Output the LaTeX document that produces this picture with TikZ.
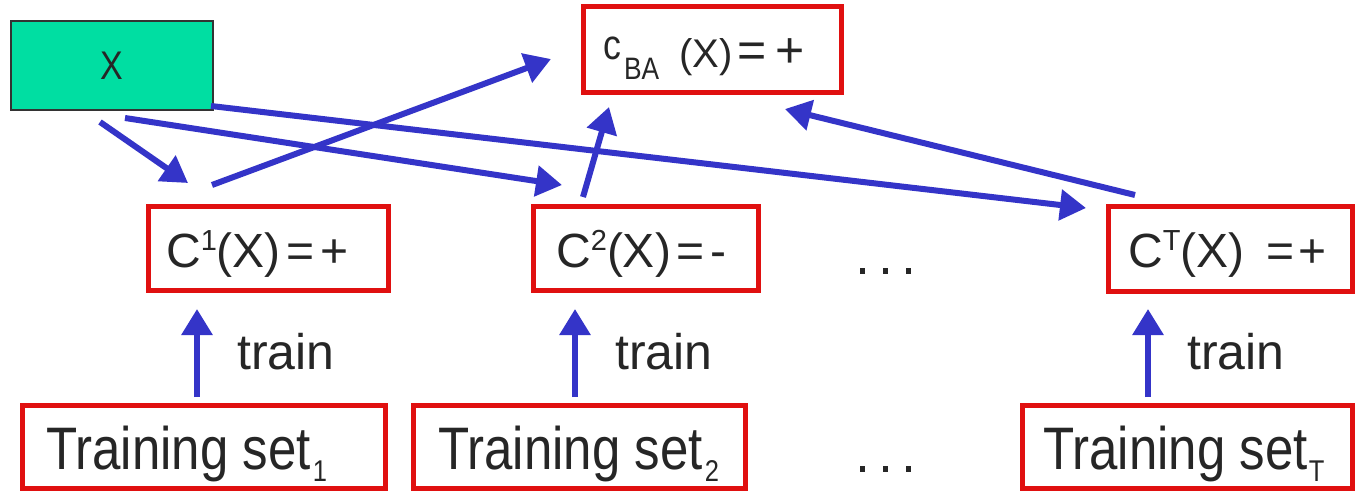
\documentclass[tikz,border=0pt]{standalone}
\usepackage{fontspec}
\setmainfont{Liberation Sans}
\newfontfamily\cnd[FakeStretch=0.85]{Liberation Sans}
\usetikzlibrary{arrows.meta}
\definecolor{boxred}{RGB}{224,16,16}
\definecolor{arrblue}{RGB}{52,52,200}
\definecolor{xgreen}{RGB}{0,222,162}
\tikzset{
  redbox/.style={draw=boxred, line width=5pt, fill=white, inner sep=0pt},
  conn/.style={draw=arrblue, line width=6pt, -{Triangle[length=26pt,width=30pt]}},
  lbl/.style={inner sep=0pt, text=black!85},
  dot/.style={fill=black!85, inner sep=0pt, minimum width=5pt, minimum height=6pt},
}
\newcommand{\fsz}[1]{\fontsize{#1}{#1}\selectfont}
\newcommand{\supr}[2]{\raisebox{#1}{\fsz{29}#2}}
\begin{document}
\begin{tikzpicture}[x=1pt,y=-1pt]
\useasboundingbox[fill=white] (0,0) rectangle (1362,492);

% top input box
\node[draw=black!80, line width=1.5pt, fill=xgreen, minimum width=202pt, minimum height=89pt, inner sep=0pt, text=black!85, font=\cnd] (X) at (112,65.5) {\fsz{40}X};

% aggregated classifier
\node[redbox, minimum width=258pt, minimum height=86pt] (CBA) at (712,50) {};
\node[lbl, anchor=base west] (cbatxt) at (603,68) {\cnd\raisebox{8pt}{\fsz{42}c}\hspace{3pt}\raisebox{-12pt}{\fsz{31}BA}\hspace{20pt}\rmfamily\fsz{40}(X)\hspace{5pt}\fsz{50}=\hspace{9pt}+};

% classifiers
\node[redbox, minimum width=240pt, minimum height=84pt] (C1) at (268,248) {};
\node[lbl, anchor=base west] (c1txt) at (166,267) {\fsz{48}C\supr{17pt}{1}(X)\hspace{6pt}=\hspace{6pt}+};
\node[redbox, minimum width=225pt, minimum height=84pt] (C2) at (645.5,248) {};
\node[lbl, anchor=base west] (c2txt) at (556,267) {\fsz{48}C\supr{17pt}{2}(X)\hspace{6pt}=\hspace{6pt}-};
\node[redbox, minimum width=244pt, minimum height=85pt] (CT) at (1230,248.5) {};
\node[lbl, anchor=base west] (cttxt) at (1128,267) {\fsz{48}C\supr{17pt}{T}(X)\hspace{22pt}=\hspace{4pt}+};

% dots
\node[dot] (d1) at (862,271) {};
\node[dot] (d2) at (885,271) {};
\node[dot] (d3) at (908,271) {};
\node[dot] (d4) at (862,469) {};
\node[dot] (d5) at (885,469) {};
\node[dot] (d6) at (908,469) {};

% training sets
\node[redbox, minimum width=363pt, minimum height=83pt] (TS1) at (203.5,446.5) {};
\node[lbl, anchor=base west, font=\cnd] (ts1txt) at (46,469) {\fsz{60}Training set\hspace{2pt}\raisebox{-12pt}{\fsz{30}1}};
\node[redbox, minimum width=332pt, minimum height=83pt] (TS2) at (579,446.5) {};
\node[lbl, anchor=base west, font=\cnd] (ts2txt) at (438,469) {\fsz{60}Training set\hspace{2pt}\raisebox{-12pt}{\fsz{30}2}};
\node[redbox, minimum width=330pt, minimum height=83pt] (TST) at (1187,446.5) {};
\node[lbl, anchor=base west, font=\cnd] (tsttxt) at (1043,469) {\fsz{60}Training set\hspace{1pt}\raisebox{-12pt}{\fsz{30}T}};

% train labels
\node[lbl, anchor=base west] (tr1) at (237,369) {\fsz{50}train};
\node[lbl, anchor=base west] (tr2) at (615,369) {\fsz{50}train};
\node[lbl, anchor=base west] (tr3) at (1187,369) {\fsz{50}train};

% arrow end points
\coordinate (a1s) at (100,122); \coordinate (a1e) at (188,183);
\coordinate (a2s) at (125,118); \coordinate (a2e) at (562,185);
\coordinate (a3s) at (211,106); \coordinate (a3e) at (1086,208);
\coordinate (a4s) at (212,185); \coordinate (a4e) at (551,59);
\coordinate (a5s) at (583,197); \coordinate (a5e) at (609,107);
\coordinate (a6s) at (1135,195); \coordinate (a6e) at (785,109);
\coordinate (t1s) at (197,397); \coordinate (t1e) at (197,309);
\coordinate (t2s) at (575,397); \coordinate (t2e) at (575,309);
\coordinate (t3s) at (1148,397); \coordinate (t3e) at (1148,309);

\draw[conn] (a3s) -- (a3e);
\draw[conn] (a2s) -- (a2e);
\draw[conn] (a1s) -- (a1e);
\draw[conn] (a4s) -- (a4e);
\draw[conn] (a5s) -- (a5e);
\draw[conn] (a6s) -- (a6e);
\draw[conn] (t1s) -- (t1e);
\draw[conn] (t2s) -- (t2e);
\draw[conn] (t3s) -- (t3e);
\end{tikzpicture}
\end{document}
